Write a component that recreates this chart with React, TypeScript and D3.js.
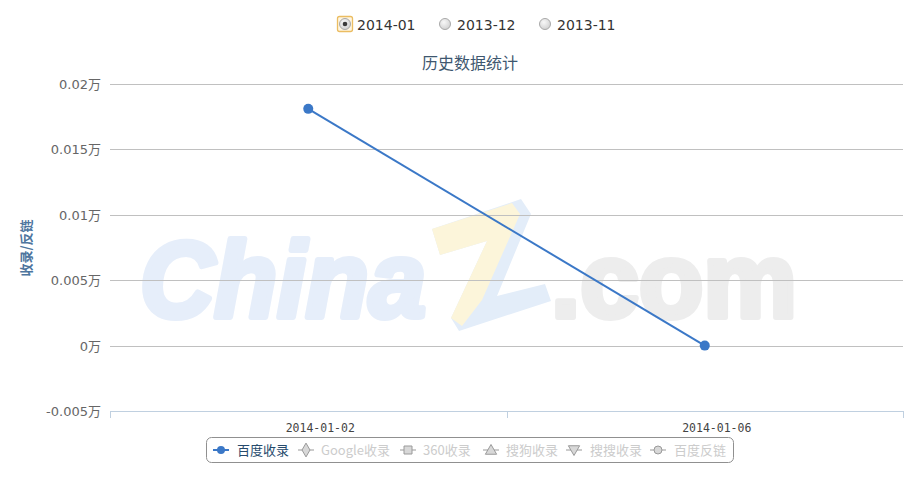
import React from "react";
import * as d3 from "d3";

// Data
const categories = ["2014-01-02", "2014-01-06"];
const baiduIndexed = [0.0181, 0];
const yTicks = [-0.005, 0, 0.005, 0.01, 0.015, 0.02];
const months = ["2014-01", "2013-12", "2013-11"];
const selectedMonth = "2014-01";
const legendNames = ["百度收录", "Google收录", "360收录", "搜狗收录", "搜搜收录", "百度反链"];
const legendSymbols = ["circle", "diamond", "square", "triangle", "triangleDown", "circle"];
const legendVisible = [true, false, false, false, false, false];

const W = 915;
const H = 478;
const plot = { left: 110, right: 903, top: 84, bottom: 411 };
const SERIES_COLOR = "#3b78c7";
const SANS = "'DejaVu Sans', 'Noto Sans CJK SC', sans-serif";
const CJK = "'Noto Sans CJK SC', 'DejaVu Sans', sans-serif";

const x = d3.scaleBand<string>().domain(categories).range([plot.left, plot.right]);
const y = d3.scaleLinear().domain([-0.005, 0.02]).range([plot.bottom, plot.top]);

const fmt = (v: number) => `${+v.toFixed(4)}万`;

const symbolPath = (kind: string, size: number) => {
  const map: Record<string, d3.SymbolType> = {
    circle: d3.symbolCircle,
    diamond: d3.symbolDiamond,
    square: d3.symbolSquare,
    triangle: d3.symbolTriangle,
    triangleDown: d3.symbolTriangle,
  };
  return d3.symbol().type(map[kind]).size(size)() as string;
};

// legend layout: symbol centre and label start for each item
const legendSymbolX = [221, 306, 408, 491, 574, 658];
const legendTextX = [237, 321, 423, 506, 590, 674];

function Watermark() {
  const wm = "'Liberation Sans', Arial, sans-serif";
  return (
    <g>
      <text x={140} y={317} fontFamily={wm} fontWeight="bold" fontStyle="italic" fontSize={108}
        fill="#e6eefa" stroke="#e6eefa" strokeWidth={6} strokeLinejoin="round"
        textLength={286} lengthAdjust="spacingAndGlyphs">
        China
      </text>
      <polygon points="432,229 521,199 531,214 497,296 545,284 551,301 459,331 451,318 487,241 440,255" fill="#e3edf9" />
      <polygon points="432,229 512,203 520,214 482,300 462,326 451,318 487,241 440,255" fill="#fcf5da" />
      <text x={551} y={317} fontFamily={wm} fontWeight="bold" fontSize={106}
        fill="#ededed" stroke="#ededed" strokeWidth={6} strokeLinejoin="round"
        textLength={246} lengthAdjust="spacingAndGlyphs">
        .com
      </text>
    </g>
  );
}

function MonthPicker() {
  return (
    <g>
      <defs>
        <radialGradient id="radioFill" cx="0.4" cy="0.35" r="0.7">
          <stop offset="0" stopColor="#f8f8f8" />
          <stop offset="1" stopColor="#cfcfcf" />
        </radialGradient>
      </defs>
      {months.map((m, i) => {
        const cx = 345 + i * 100;
        const sel = m === selectedMonth;
        return (
          <g key={m}>
            {sel && (
              <rect x={cx - 7.5} y={16.5} width={15} height={15} rx={2} fill="#fff6e2" stroke="#ebbd62" strokeWidth={1.3} />
            )}
            <circle cx={cx} cy={24} r={5.5} fill="url(#radioFill)" stroke="#a9a9a9" strokeWidth={1} />
            {sel && <circle cx={cx} cy={24} r={2.3} fill="#3a3a3a" />}
            <text x={cx + 12} y={29.5} fontFamily={SANS} fontSize={14} fill="#333">
              {m}
            </text>
          </g>
        );
      })}
    </g>
  );
}

export default function App() {
  const line = d3
    .line<number>()
    .x((_, i) => (x(categories[i]) as number) + x.bandwidth() / 2)
    .y((d) => y(d));

  const boundaries = [...categories.map((c) => x(c) as number), plot.right];

  return (
    <svg width={W} height={H} style={{ position: "absolute", left: 0, top: 0, background: "#fff" }}>
      <rect width={W} height={H} fill="#fff" />
      <Watermark />
      <MonthPicker />

      <text x={470} y={69} textAnchor="middle" fontFamily={CJK} fontSize={16} fill="#3e576f">
        历史数据统计
      </text>

      {/* grid lines and y labels */}
      {yTicks.map((t) => (
        <g key={t}>
          <line x1={plot.left} x2={plot.right} y1={Math.round(y(t)) + 0.5} y2={Math.round(y(t)) + 0.5} stroke="#c0c0c0" strokeWidth={1} />
          <text x={101} y={y(t) + 5} textAnchor="end" fontFamily={SANS} fontSize={13} fill="#666">
            {fmt(t)}
          </text>
        </g>
      ))}

      {/* x axis */}
      <line x1={plot.left} x2={plot.right} y1={plot.bottom + 0.5} y2={plot.bottom + 0.5} stroke="#c0d0e0" strokeWidth={1} />
      {boundaries.map((bx, i) => (
        <line key={i} x1={Math.round(bx) + 0.5} x2={Math.round(bx) + 0.5} y1={plot.bottom} y2={plot.bottom + 7} stroke="#c0d0e0" strokeWidth={1} />
      ))}
      {categories.map((c) => (
        <text key={c} x={(x(c) as number) + x.bandwidth() / 2 + 12} y={432} textAnchor="middle"
          fontFamily="'DejaVu Sans Mono', monospace" fontSize={11.5} fill="#444">
          {c}
        </text>
      ))}

      {/* y axis title */}
      <text transform="translate(31,248) rotate(-90)" textAnchor="middle" fontFamily={CJK} fontWeight="bold" fontSize={13} fill="#4d759e">
        收录/反链
      </text>

      {/* series */}
      <path d={line(baiduIndexed) as string} fill="none" stroke={SERIES_COLOR} strokeWidth={2} strokeLinejoin="round" />
      {baiduIndexed.map((v, i) => (
        <circle key={i} cx={(x(categories[i]) as number) + x.bandwidth() / 2} cy={y(v)} r={5} fill={SERIES_COLOR} />
      ))}

      {/* legend */}
      <rect x={206.5} y={437.5} width={527} height={25} rx={5} fill="#fff" stroke="#909090" strokeWidth={1} />
      {legendNames.map((name, i) => {
        const sx = legendSymbolX[i];
        const vis = legendVisible[i];
        const kind = legendSymbols[i];
        return (
          <g key={name}>
            <line x1={sx - 8} x2={sx + 8} y1={450} y2={450} stroke={vis ? SERIES_COLOR : "#ccc"} strokeWidth={2} />
            <path
              d={symbolPath(kind, kind === "circle" ? 50 : kind === "square" ? 64 : 55)}
              transform={`translate(${sx},${450 + (kind === "triangle" ? 1 : kind === "triangleDown" ? -1 : 0)}) rotate(${kind === "triangleDown" ? 180 : 0})`}
              fill={vis ? SERIES_COLOR : "#d8d8d8"}
              stroke={vis ? "none" : "#9a9a9a"}
              strokeWidth={1}
            />
            <text x={legendTextX[i]} y={455} fontFamily={CJK} fontSize={13} fill={vis ? "#274b6d" : "#cccccc"}>
              {name}
            </text>
          </g>
        );
      })}
    </svg>
  );
}
